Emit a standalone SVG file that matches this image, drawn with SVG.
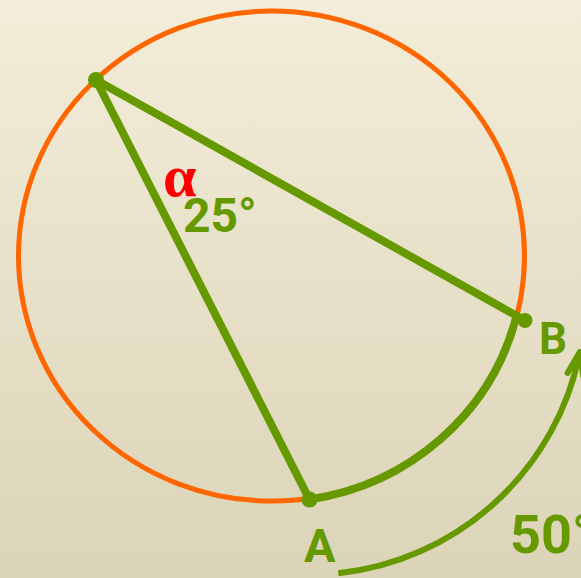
<svg xmlns="http://www.w3.org/2000/svg" width="581" height="578" viewBox="0 0 581 578">
  <defs>
    <linearGradient id="bg" x1="0" y1="0" x2="0" y2="1">
      <stop offset="0" stop-color="#f3edd9"/>
      <stop offset="1" stop-color="#dcd4b8"/>
    </linearGradient>
    <marker id="arrow" markerUnits="userSpaceOnUse" markerWidth="40" markerHeight="40" refX="0" refY="0" viewBox="-30 -20 40 40" orient="auto" overflow="visible">
      <path d="M -23 -8 L 0 0 L -23 8" fill="none" stroke="#669900" stroke-width="6" stroke-linecap="round" stroke-linejoin="round"/>
    </marker>
    <style>
      .g { fill: none; stroke: #669900; stroke-linecap: round; }
      .dot { fill: #669900; }
      .lbl { font-family: Roboto, "Liberation Sans", sans-serif; font-weight: bold; fill: #669900; }
    </style>
  </defs>
  <rect width="581" height="578" fill="url(#bg)"/>
  <g id="circle">
    <ellipse cx="271.5" cy="256" rx="253" ry="245" fill="none" stroke="#ff6600" stroke-width="5"/>
  </g>
  <g id="connectors">
    <line class="g" x1="96" y1="80" x2="309.5" y2="499.5" stroke-width="8"/>
    <line class="g" x1="96" y1="80" x2="525" y2="320.5" stroke-width="8"/>
    <path class="g" d="M 309.5 499.5 A 253 245 0 0 0 516 318" stroke-width="8"/>
    <path d="M 338.3 573.3 A 276.5 276.5 0 0 0 579.9 352" fill="none" stroke="#669900" stroke-width="6" marker-end="url(#arrow)"/>
  </g>
  <g id="vertex">
    <circle class="dot" cx="96" cy="80" r="8"/>
  </g>
  <g id="pointA">
    <circle class="dot" cx="309.5" cy="499.5" r="8"/>
    <text class="lbl" x="304" y="562" font-size="47">A</text>
  </g>
  <g id="pointB">
    <circle class="dot" cx="525" cy="320.5" r="7.5"/>
    <text class="lbl" x="539" y="353.5" font-size="44">B</text>
  </g>
  <g id="angle">
    <text x="163" y="196" font-family="'Liberation Serif', serif" font-weight="bold" font-size="60" fill="#ff0000">α</text>
    <text class="lbl" x="183" y="232" font-size="48">25°</text>
  </g>
  <g id="arcLabel">
    <text class="lbl" x="510" y="553" font-size="54">50°</text>
  </g>
</svg>
